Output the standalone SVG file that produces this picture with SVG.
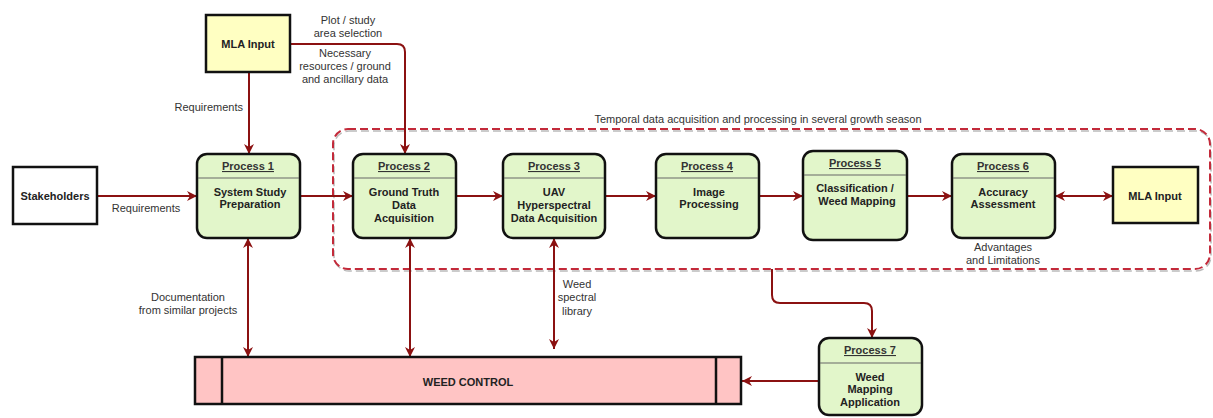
<svg xmlns="http://www.w3.org/2000/svg" width="1213" height="418" viewBox="0 0 1213 418">
  <style>
    text { font-family: "Liberation Sans", Arial, sans-serif; font-size: 11px; fill: #222; }
    .b { font-weight: bold; }
    .t { text-anchor: middle; }
    .h { text-decoration: underline; font-weight: bold; fill: #333; }
    .proc { fill: #e2f6ca; stroke: #111; stroke-width: 2.5; }
    .div { stroke: #666; stroke-width: 1; }
    .ext { stroke: #111; stroke-width: 2.5; }
    .flow { fill: none; stroke: #8b1111; stroke-width: 2; }
    .lbl { fill: #333; }
  </style>
  <defs>
    <marker id="ah" viewBox="0 0 10 10" refX="10" refY="5" markerWidth="10" markerHeight="10" markerUnits="userSpaceOnUse" orient="auto-start-reverse">
      <path d="M0,0 L10,5 L0,10 L3,5 Z" fill="#8b1111"/>
    </marker>
  </defs>

  <!-- grouping region for the seasonal processing loop -->
  <g id="season-region">
    <rect x="334" y="131" width="877" height="140" rx="15" fill="none" stroke="#bbb" stroke-width="1.5" stroke-dasharray="8,4"/>
    <rect x="333" y="129" width="877" height="140" rx="15" fill="none" stroke="#c32a3a" stroke-width="2" stroke-dasharray="8,4"/>
    <text class="t lbl" x="758" y="123">Temporal data acquisition and processing in several growth season</text>
  </g>

  <g id="connectors">
    <path class="flow" d="M249,72 V154" marker-end="url(#ah)"/>
    <path class="flow" d="M290,44 H397 Q405,44 405,52 V154" marker-end="url(#ah)"/>
    <path class="flow" d="M97,196 H197" marker-end="url(#ah)"/>
    <path class="flow" d="M300,196 H353" marker-end="url(#ah)"/>
    <path class="flow" d="M456,196 H503" marker-end="url(#ah)"/>
    <path class="flow" d="M605,196 H656" marker-end="url(#ah)"/>
    <path class="flow" d="M759,196 H803" marker-end="url(#ah)"/>
    <path class="flow" d="M907,196 H952" marker-end="url(#ah)"/>
    <path class="flow" d="M1055,196 H1113" marker-start="url(#ah)" marker-end="url(#ah)"/>
    <path class="flow" d="M248,238 V357" marker-start="url(#ah)" marker-end="url(#ah)"/>
    <path class="flow" d="M410,238 V357" marker-start="url(#ah)" marker-end="url(#ah)"/>
    <path class="flow" d="M554,238 V349" marker-start="url(#ah)" marker-end="url(#ah)"/>
    <path class="flow" d="M772,269 V295 Q772,303 780,303 H864 Q872,303 872,311 V338" marker-end="url(#ah)"/>
    <path class="flow" d="M819,381 H742" marker-end="url(#ah)"/>

    <text class="lbl" x="243" y="111" text-anchor="end">Requirements</text>
    <text class="t lbl" x="348" y="24">Plot / study</text>
    <text class="t lbl" x="348" y="37">area selection</text>
    <text class="t lbl" x="345" y="57">Necessary</text>
    <text class="t lbl" x="345" y="70">resources / ground</text>
    <text class="t lbl" x="345" y="83">and ancillary data</text>
    <text class="t lbl" x="146" y="212">Requirements</text>
    <text class="t lbl" x="188" y="301">Documentation</text>
    <text class="t lbl" x="188" y="314">from similar projects</text>
    <text class="t lbl" x="577" y="288">Weed</text>
    <text class="t lbl" x="577" y="301">spectral</text>
    <text class="t lbl" x="577" y="315">library</text>
    <text class="t lbl" x="1003" y="251">Advantages</text>
    <text class="t lbl" x="1003" y="264">and Limitations</text>
  </g>

  <g id="mla-input-top">
    <rect class="ext" x="206" y="15" width="84" height="57" fill="#ffffc2"/>
    <text class="t b" x="248" y="48">MLA Input</text>
  </g>

  <g id="stakeholders">
    <rect class="ext" x="13" y="167" width="84" height="57" fill="#fff"/>
    <text class="t b" x="55" y="200">Stakeholders</text>
  </g>

  <g id="process-1">
    <rect class="proc" x="197" y="154" width="103" height="84" rx="10"/>
    <line class="div" x1="198" y1="178" x2="299" y2="178"/>
    <text class="t h" x="248" y="170">Process 1</text>
    <text class="t b" x="250" y="196">System Study</text>
    <text class="t b" x="250" y="208">Preparation</text>
  </g>

  <g id="process-2">
    <rect class="proc" x="353" y="154" width="103" height="84" rx="10"/>
    <line class="div" x1="354" y1="178" x2="455" y2="178"/>
    <text class="t h" x="404" y="170">Process 2</text>
    <text class="t b" x="404" y="196">Ground Truth</text>
    <text class="t b" x="404" y="209">Data</text>
    <text class="t b" x="404" y="222">Acquisition</text>
  </g>

  <g id="process-3">
    <rect class="proc" x="503" y="154" width="102" height="84" rx="10"/>
    <line class="div" x1="504" y1="178" x2="604" y2="178"/>
    <text class="t h" x="554" y="170">Process 3</text>
    <text class="t b" x="554" y="196">UAV</text>
    <text class="t b" x="554" y="209">Hyperspectral</text>
    <text class="t b" x="554" y="222">Data Acquisition</text>
  </g>

  <g id="process-4">
    <rect class="proc" x="656" y="154" width="103" height="84" rx="10"/>
    <line class="div" x1="657" y1="178" x2="758" y2="178"/>
    <text class="t h" x="707" y="170">Process 4</text>
    <text class="t b" x="709" y="196">Image</text>
    <text class="t b" x="709" y="208">Processing</text>
  </g>

  <g id="process-5">
    <rect class="proc" x="803" y="151" width="104" height="89" rx="10"/>
    <line class="div" x1="804" y1="175" x2="906" y2="175"/>
    <text class="t h" x="855" y="167">Process 5</text>
    <text class="t b" x="855" y="192">Classification /</text>
    <text class="t b" x="857" y="205">Weed Mapping</text>
  </g>

  <g id="process-6">
    <rect class="proc" x="952" y="154" width="103" height="84" rx="10"/>
    <line class="div" x1="953" y1="178" x2="1054" y2="178"/>
    <text class="t h" x="1003" y="170">Process 6</text>
    <text class="t b" x="1003" y="196">Accuracy</text>
    <text class="t b" x="1003" y="208">Assessment</text>
  </g>

  <g id="mla-input-right">
    <rect class="ext" x="1113" y="167" width="85" height="56" fill="#ffffc2"/>
    <text class="t b" x="1155" y="200">MLA Input</text>
  </g>

  <g id="weed-control">
    <rect class="ext" x="195" y="357" width="546" height="47" fill="#ffc4c4"/>
    <line class="ext" x1="222" y1="357" x2="222" y2="404"/>
    <line class="ext" x1="716" y1="357" x2="716" y2="404"/>
    <text class="t b" x="468" y="386">WEED CONTROL</text>
  </g>

  <g id="process-7">
    <rect class="proc" x="819" y="338" width="103" height="77" rx="10"/>
    <line class="div" x1="820" y1="363" x2="921" y2="363"/>
    <text class="t h" x="870" y="354">Process 7</text>
    <text class="t b" x="870" y="381">Weed</text>
    <text class="t b" x="870" y="393">Mapping</text>
    <text class="t b" x="870" y="406">Application</text>
  </g>
</svg>
